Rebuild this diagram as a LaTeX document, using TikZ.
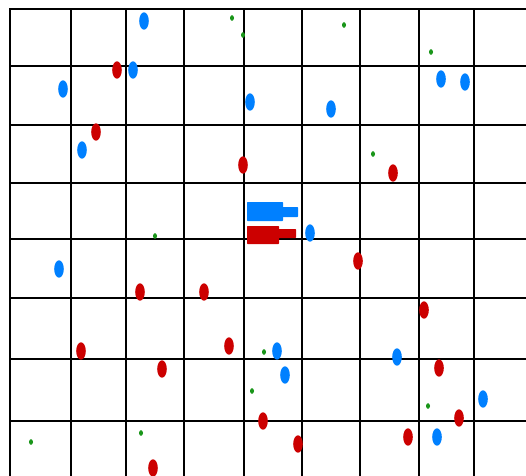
\documentclass[tikz,border=0pt]{standalone}
\usepackage{tikz}
\definecolor{agentblue}{RGB}{0,128,255}
\definecolor{agentred}{RGB}{204,0,0}
\definecolor{foodgreen}{RGB}{26,150,26}

\begin{document}
\begin{tikzpicture}[x=0.5mm, y=-0.5mm,
  gridline/.style={line width=1mm, black, line cap=rect},
  bluedot/.style={fill=agentblue},
  reddot/.style={fill=agentred},
  greendot/.style={fill=foodgreen},
]
\useasboundingbox (0,0) rectangle (526,475);

% Grid
\foreach \gx in {9.5,71,126,184,244,302,360,419,474}
  \draw[gridline] (\gx,9.5) -- (\gx,480);
\foreach \gy in {9.5,66,125,183,239,298,359,421}
  \draw[gridline] (9.5,\gy) -- (530,\gy);

% Blue agents
\foreach \px/\py in {144/21, 133/70, 63/89, 250/102, 82/150, 331/109,
                     441/79, 465/82, 310/233, 59/269, 277/351, 285/375,
                     397/357, 483/399, 437/437}
  \fill[bluedot] (\px,\py) ellipse [x radius=4.8, y radius=8.7];

% Red agents
\foreach \px/\py in {117/70, 96/132, 243/165, 393/173, 358/261, 140/292,
                     204/292, 81/351, 229/346, 162/369, 424/310, 439/368,
                     459/418, 408/437, 298/444, 263/421, 153/468}
  \fill[reddot] (\px,\py) ellipse [x radius=4.8, y radius=8.7];

% Food
\foreach \px/\py in {232/18, 243/35, 344/25, 431/52, 373/154, 155/236,
                     264/352, 252/391, 428/406, 31/442, 141/433}
  \fill[greendot] (\px,\py) ellipse [x radius=2, y radius=2.8];

% Robots
\fill[agentblue, rounded corners=1pt] (247,202) rectangle (283,221);
\fill[agentblue, rounded corners=1pt] (282,207) rectangle (298,217);
\fill[agentred, rounded corners=1pt] (247,226) rectangle (279,244);
\fill[agentred, rounded corners=1pt] (278,229) rectangle (296,238);

\end{tikzpicture}
\end{document}
